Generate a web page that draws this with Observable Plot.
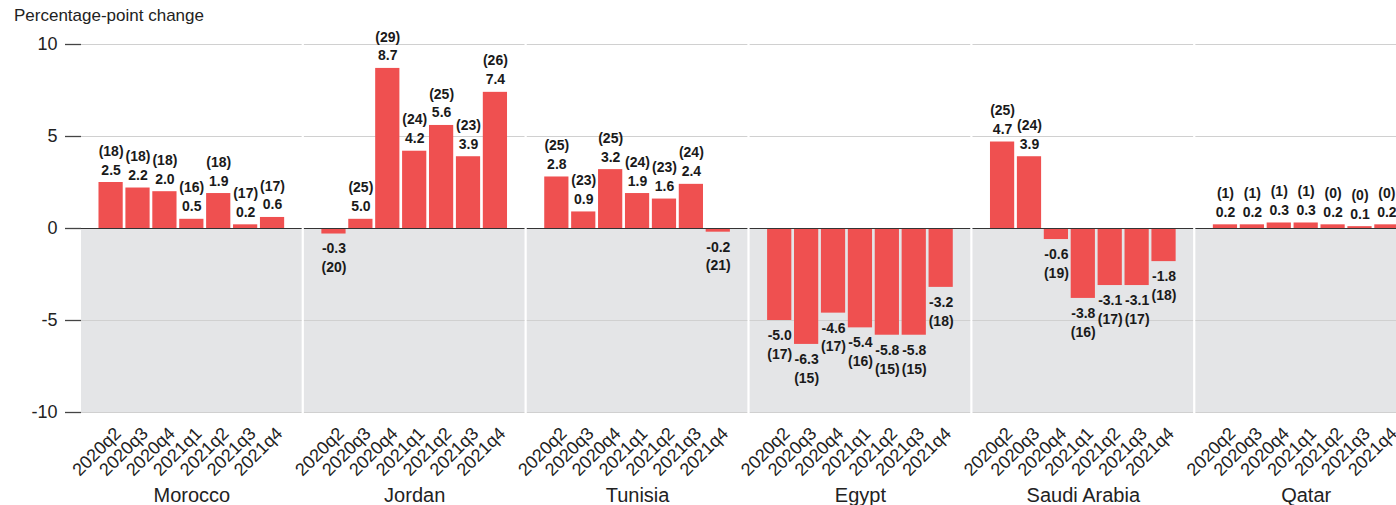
<!DOCTYPE html>
<html>
<head>
<meta charset="utf-8">
<script src="https://cdn.jsdelivr.net/npm/d3@7"></script>
<script src="https://cdn.jsdelivr.net/npm/@observablehq/plot@0.6"></script>
<style>
  html, body { margin: 0; padding: 0; background: #fff; overflow: hidden; width: 1396px; height: 505px; }
  #title { height: 30px; box-sizing: border-box; padding: 6px 0 0 14px; font: 17px "Liberation Sans", Arial, sans-serif; line-height: 20px; color: #222; white-space: nowrap; }
  #chart { width: 1396px; overflow: hidden; }
  #chart svg { display: block; max-width: none !important; width: 1416px !important; height: 475px !important; }
</style>
</head>
<body>
<div id="title">Percentage-point change</div>
<div id="chart"></div>
<script>
const countries = ["Morocco", "Jordan", "Tunisia", "Egypt", "Saudi Arabia", "Qatar"];
const quarters = ["2020q2", "2020q3", "2020q4", "2021q1", "2021q2", "2021q3", "2021q4"];
const yTicks = [-10, -5, 0, 5, 10];

const moroccoValues = [2.5, 2.2, 2.0, 0.5, 1.9, 0.2, 0.6];
const moroccoCounts = [18, 18, 18, 16, 18, 17, 17];
const jordanValues = [-0.3, 0.5, 8.7, 4.2, 5.6, 3.9, 7.4];
const jordanCounts = [20, 25, 29, 24, 25, 23, 26];
const tunisiaValues = [2.8, 0.9, 3.2, 1.9, 1.6, 2.4, -0.2];
const tunisiaCounts = [25, 23, 25, 24, 23, 24, 21];
const egyptValues = [-5.0, -6.3, -4.6, -5.4, -5.8, -5.8, -3.2];
const egyptCounts = [17, 15, 17, 16, 15, 15, 18];
const saudiValues = [4.7, 3.9, -0.6, -3.8, -3.1, -3.1, -1.8];
const saudiCounts = [25, 24, 19, 16, 17, 17, 18];
const qatarValues = [0.2, 0.2, 0.3, 0.3, 0.2, 0.1, 0.2];
const qatarCounts = [1, 1, 1, 1, 0, 0, 0];
// label printed in the source differs from the drawn bar
const labelOverrides = { "Jordan|2020q3": "5.0" };

const series = [
  ["Morocco", moroccoValues, moroccoCounts],
  ["Jordan", jordanValues, jordanCounts],
  ["Tunisia", tunisiaValues, tunisiaCounts],
  ["Egypt", egyptValues, egyptCounts],
  ["Saudi Arabia", saudiValues, saudiCounts],
  ["Qatar", qatarValues, qatarCounts]
];
const rows = [];
for (const [country, vals, counts] of series) {
  vals.forEach((v, i) => {
    const q = quarters[i];
    const txt = labelOverrides[country + "|" + q] ?? v.toFixed(1);
    rows.push({country, quarter: q, value: v, count: counts[i], txt});
  });
}
const pos = rows.filter(d => d.value >= 0);
const neg = rows.filter(d => d.value < 0);

const FONT = '"Liberation Sans", Arial, sans-serif';

const chart = Plot.plot({
  width: 1416,
  height: 475,
  marginTop: 14,
  marginBottom: 93,
  marginLeft: 81,
  marginRight: 0,
  style: {fontFamily: FONT, color: "#222", background: "#fff", overflow: "visible"},
  fx: {domain: countries, paddingInner: 0.01, paddingOuter: 0, round: false},
  x: {domain: quarters, paddingInner: 0.1, paddingOuter: 0.65, round: false},
  y: {domain: [-10, 10]},
  marks: [
    Plot.rect([0], {y1: 0, y2: -10, fill: "#e4e5e7"}),
    Plot.ruleY([5, 10, -5, -10], {stroke: "#d0d0d0", strokeWidth: 1.2}),
    Plot.barY(rows, {fx: "country", x: "quarter", y: "value", fill: "#ef5050"}),
    Plot.ruleY([0], {stroke: "#333", strokeWidth: 1.2}),
    Plot.text(pos, {fx: "country", x: "quarter", y: "value", text: d => `(${d.count})\n${d.txt}`,
      lineAnchor: "bottom", dy: -8, fontSize: 14, fontWeight: "bold", lineHeight: 1.35, fill: "#1a1a1a"}),
    Plot.text(neg, {fx: "country", x: "quarter", y: "value", text: d => `${d.txt}\n(${d.count})`,
      lineAnchor: "top", dy: 6, fontSize: 14, fontWeight: "bold", lineHeight: 1.35, fill: "#1a1a1a"}),
    Plot.axisY({ticks: yTicks, tickFormat: d => String(d), tickSize: 16, tickPadding: 8, fontSize: 18, stroke: "#444", strokeWidth: 1.3, label: null}),
    Plot.axisX({tickRotate: -45, tickSize: 0, tickPadding: 18, dx: 7, fontSize: 18, label: null}),
    Plot.axisFx({anchor: "bottom", tickSize: 0, tickPadding: 75, fontSize: 20, label: null})
  ]
});
document.getElementById("chart").appendChild(chart);
</script>
</body>
</html>
